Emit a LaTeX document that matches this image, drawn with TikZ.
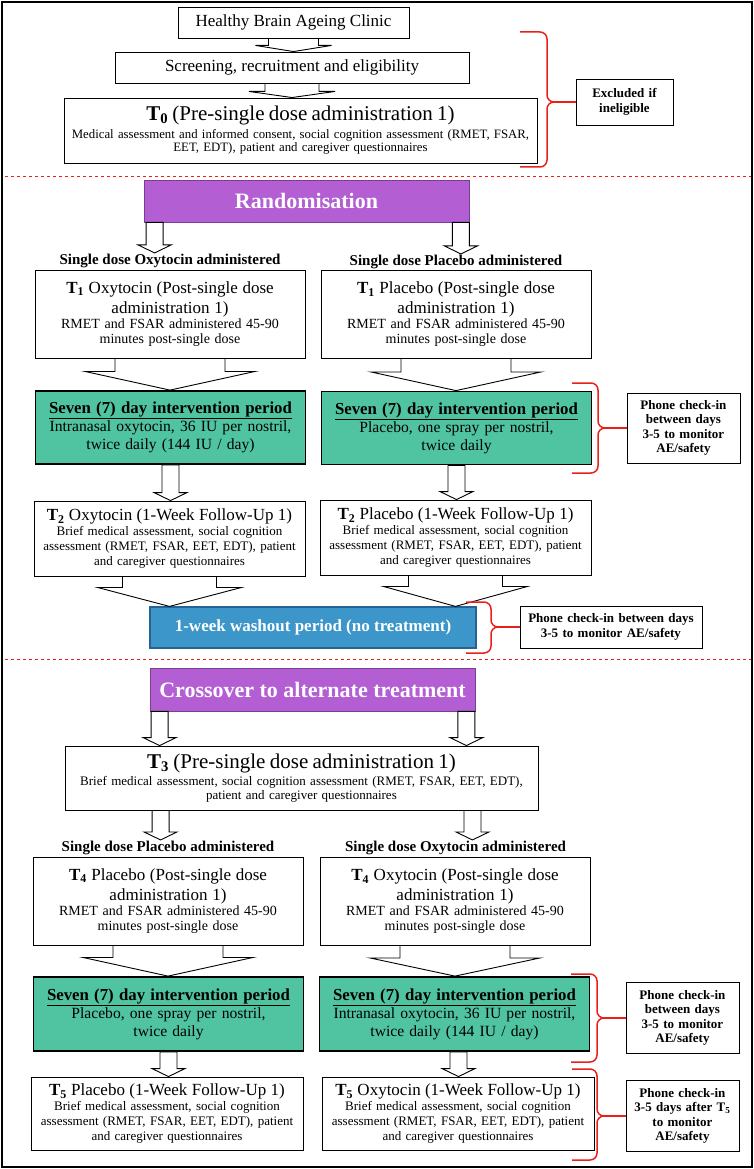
\documentclass[tikz,border=0pt]{standalone}
\usepackage{fontspec}
\setmainfont{Liberation Serif}
\usepackage{tikz}
\usetikzlibrary{calc}
\usetikzlibrary{positioning}
\tikzset{>=latex}

\definecolor{randpurple}{RGB}{180,94,212}
\definecolor{randedge}{RGB}{120,62,148}
\definecolor{periodgreen}{RGB}{80,196,160}
\definecolor{washblue}{RGB}{60,150,201}
\definecolor{washedge}{RGB}{38,98,146}
\definecolor{bracered}{RGB}{232,32,28}

\newcommand{\fs}[2]{\fontsize{#1}{#2}\selectfont}

\tikzset{
  box/.style={draw, line width=0.9pt, fill=white, align=center, inner sep=2pt},
  greenbox/.style={box, fill=periodgreen, line width=1.8pt},
  purplebox/.style={draw=randedge, line width=0.8pt, fill=randpurple, text=white,
    font=\fs{22}{24}\bfseries, inner sep=2pt},
  bluebox/.style={draw=washedge, line width=1.2pt, fill=washblue, text=white,
    font=\fs{17}{20}\bfseries, inner sep=2pt},
  sidebox/.style={box, font=\fs{13}{14.5}\bfseries},
  doselab/.style={font=\fs{15}{17}\bfseries, inner sep=1pt},
  chevline/.style={line width=0.9pt},
  blockarr/.style={draw, fill=white, line width=0.9pt},
  bracel/.style={draw=bracered, line width=1.5pt, rounded corners=7pt},
  sepline/.style={draw=bracered, line width=0.9pt, dash pattern=on 3pt off 3pt}
}

% upper node, lower node, shaft half width, head half width, stub length
\newcommand{\chev}[5]{%
  \draw[chevline] ($(#1.south)+(-#3,0)$) -- ++(0,#5) -- ++({#3-#4},0)
    -- (#1.south |- #2.north) -- ($(#1.south)+(#4,#5)$) -- ++({#3-#4},0) -- ++(0,-#5);}

% start point, end point (only its height is used)
\newcommand{\barrow}[2]{%
  \draw[blockarr] let \p1=#1, \p2=#2 in
    (\x1-8.5pt,\y1) -- (\x1-8.5pt,\y2+8pt) -- (\x1-16.5pt,\y2+8pt) -- (\x1,\y2)
    -- (\x1+16.5pt,\y2+8pt) -- (\x1+8.5pt,\y2+8pt) -- (\x1+8.5pt,\y1) -- cycle;}

% tip name, x of ends, x of body, top, middle, bottom
\newcommand{\redbrace}[6]{%
  \draw[bracel] (#2,#4) -| (#3,#5) -- ++(6,0) coordinate (#1);
  \draw[bracel] (#2,#6) -| (#3,#5) -- ++(6,0);}

\begin{document}
\begin{tikzpicture}[x=1pt, y=-1pt, node distance=22.5pt]
  \useasboundingbox (0,0) rectangle (754,1169);
  \draw[line width=1.6pt] (2,2) rectangle (752,1167);

  \node[box, minimum width=231pt, minimum height=31pt, font=\fs{17}{20}] (healthy) at (293.5,22.5)
    {Healthy Brain Ageing Clinic};
  \node[box, minimum width=354pt, minimum height=31pt, font=\fs{17}{20}] (screen) at (292,67.5)
    {Screening, recruitment and eligibility};
  \node[box, text width=469pt, minimum height=65pt, font=\fs{12.8}{13.5}] (t0) at (300.5,130.5)
    {{\fs{21}{24}\textbf{T\textsubscript{0}} (Pre-single dose administration 1)\par}\vspace{3pt}
     Medical assessment and informed consent, social cognition assessment (RMET, FSAR,\\
     EET, EDT), patient and caregiver questionnaires};
  \chev{healthy}{screen}{25}{38}{7}
  \chev{screen}{t0}{27}{43}{8}

  \redbrace{b1}{520}{547}{32}{102}{167}
  \node[sidebox, text width=93pt, minimum height=46pt, right=of b1] (excl)
    {Excluded if\\ineligible};
  \draw[bracel] (b1) -- (excl.west);

  \draw[sepline] (5,176) -- (751,176);

  \node[purplebox, minimum width=325pt, minimum height=42pt] (rand) at (306.5,201) {Randomisation};
  \node[doselab] (labA) at (170,261) {Single dose Oxytocin administered};
  \node[doselab] (labB) at (456,262) {Single dose Placebo administered};
  \barrow{([xshift=11pt]rand.south west)}{(labA.north)}
  \barrow{([xshift=-8.5pt]rand.south east)}{(labB.north)}

  \node[box, text width=266pt, minimum height=88pt, font=\fs{14}{15}] (t1A) at (170,314)
    {{\fs{17}{20}\textbf{T\textsubscript{1}} Oxytocin (Post-single dose\\administration 1)\par}
     RMET and FSAR administered 45-90\\minutes post-single dose};
  \node[box, text width=266pt, minimum height=88pt, font=\fs{14}{15}] (t1B) at (456,314.5)
    {{\fs{17}{20}\textbf{T\textsubscript{1}} Placebo (Post-single dose\\administration 1)\par}
     RMET and FSAR administered 45-90\\minutes post-single dose};

  \node[greenbox, text width=266pt, minimum height=73pt, font=\fs{15.6}{18}] (sevA) at (170.5,427.5)
    {{\fs{16.8}{20}\textbf{\underline{Seven (7) day intervention period}}\par}
     Intranasal oxytocin, 36 IU per nostril,\\twice daily (144 IU / day)};
  \node[greenbox, text width=266pt, minimum height=73pt, font=\fs{15.6}{18}] (sevB) at (456.5,428)
    {{\fs{16.8}{20}\textbf{\underline{Seven (7) day intervention period}}\par}
     Placebo, one spray per nostril,\\twice daily};
  \chev{t1A}{sevA}{55}{85}{13}
  \chev{t1B}{sevB}{55}{85}{13}

  \redbrace{b2}{572}{598}{383}{428}{473}
  \node[sidebox, text width=109pt, minimum height=70pt, right=of b2] (phone1)
    {Phone check-in\\between days\\3-5 to monitor\\AE/safety};
  \draw[bracel] (b2) -- (phone1.west);

  \node[box, text width=267pt, minimum height=75pt, font=\fs{13}{15}] (t2A) at (169.5,538.5)
    {{\fs{17}{20}\textbf{T\textsubscript{2}} Oxytocin (1-Week Follow-Up 1)\par}
     Brief medical assessment, social cognition\\assessment (RMET, FSAR, EET, EDT), patient\\and caregiver questionnaires};
  \node[box, text width=267pt, minimum height=75pt, font=\fs{13}{15}] (t2B) at (455.5,537.5)
    {{\fs{17}{20}\textbf{T\textsubscript{2}} Placebo (1-Week Follow-Up 1)\par}
     Brief medical assessment, social cognition\\assessment (RMET, FSAR, EET, EDT), patient\\and caregiver questionnaires};
  \barrow{(sevA.south)}{(t2A.north)}
  \barrow{(sevB.south)}{(t2B.north)}

  \node[bluebox, minimum width=326pt, minimum height=41pt] (wash) at (313,627.5)
    {1-week washout period (no treatment)};
  \chev{t2A}{wash}{47}{72}{11}
  \chev{t2B}{wash}{47}{72}{11}

  \redbrace{b3}{466}{491}{602}{627}{653}
  \node[sidebox, text width=178pt, minimum height=42pt, right=of b3] (phone2)
    {Phone check-in between days\\3-5 to monitor AE/safety};
  \draw[bracel] (b3) -- (phone2.west);

  \draw[sepline] (5,659) -- (751,659);

  \node[purplebox, minimum width=325pt, minimum height=43pt] (cross) at (312.5,689.5)
    {Crossover to alternate treatment};
  \node[box, text width=469pt, minimum height=64pt, font=\fs{13}{14}] (t3) at (301.5,778)
    {{\fs{21}{24}\textbf{T\textsubscript{3}} (Pre-single dose administration 1)\par}\vspace{3pt}
     Brief medical assessment, social cognition assessment (RMET, FSAR, EET, EDT),\\
     patient and caregiver questionnaires};
  \barrow{([xshift=10pt]cross.south west)}{(t3.north)}
  \barrow{([xshift=-9pt]cross.south east)}{(t3.north)}

  \node[doselab] (labC) at (168,848) {Single dose Placebo administered};
  \node[doselab] (labD) at (455.5,848) {Single dose Oxytocin administered};
  \barrow{([xshift=96pt]t3.south west)}{(labC.north)}
  \barrow{([xshift=-66pt]t3.south east)}{(labD.north)}

  \node[box, text width=266pt, minimum height=88pt, font=\fs{14}{15}] (t4A) at (168,901)
    {{\fs{17}{20}\textbf{T\textsubscript{4}} Placebo (Post-single dose\\administration 1)\par}
     RMET and FSAR administered 45-90\\minutes post-single dose};
  \node[box, text width=266pt, minimum height=88pt, font=\fs{14}{15}] (t4B) at (455,901.5)
    {{\fs{17}{20}\textbf{T\textsubscript{4}} Oxytocin (Post-single dose\\administration 1)\par}
     RMET and FSAR administered 45-90\\minutes post-single dose};

  \node[greenbox, text width=266pt, minimum height=74pt, font=\fs{15.6}{18}] (sevC) at (168.5,1014)
    {{\fs{16.8}{20}\textbf{\underline{Seven (7) day intervention period}}\par}
     Placebo, one spray per nostril,\\twice daily};
  \node[greenbox, text width=266pt, minimum height=74pt, font=\fs{15.6}{18}] (sevD) at (454.5,1014)
    {{\fs{16.8}{20}\textbf{\underline{Seven (7) day intervention period}}\par}
     Intranasal oxytocin, 36 IU per nostril,\\twice daily (144 IU / day)};
  \chev{t4A}{sevC}{55}{85}{12}
  \chev{t4B}{sevD}{55}{85}{12}

  \redbrace{b4}{571}{597}{974}{1018}{1062}
  \node[sidebox, text width=109pt, minimum height=71pt, right=of b4] (phone3)
    {Phone check-in\\between days\\3-5 to monitor\\AE/safety};
  \draw[bracel] (b4) -- (phone3.west);

  \node[box, text width=268pt, minimum height=73pt, font=\fs{13}{15}] (t5A) at (167,1113.5)
    {{\fs{17}{20}\textbf{T\textsubscript{5}} Placebo (1-Week Follow-Up 1)\par}
     Brief medical assessment, social cognition\\assessment (RMET, FSAR, EET, EDT), patient\\and caregiver questionnaires};
  \node[box, text width=268pt, minimum height=73pt, font=\fs{13}{15}] (t5B) at (458,1113.5)
    {{\fs{17}{20}\textbf{T\textsubscript{5}} Oxytocin (1-Week Follow-Up 1)\par}
     Brief medical assessment, social cognition\\assessment (RMET, FSAR, EET, EDT), patient\\and caregiver questionnaires};
  \barrow{(sevC.south)}{(t5A.north)}
  \barrow{([xshift=4pt]sevD.south)}{(t5B.north)}

  \redbrace{b5}{572}{597}{1069}{1116}{1160}
  \node[sidebox, text width=109pt, minimum height=71pt, right=of b5] (phone4)
    {Phone check-in\\3-5 days after T\textsubscript{5}\\to monitor\\AE/safety};
  \draw[bracel] (b5) -- (phone4.west);
\end{tikzpicture}
\end{document}
